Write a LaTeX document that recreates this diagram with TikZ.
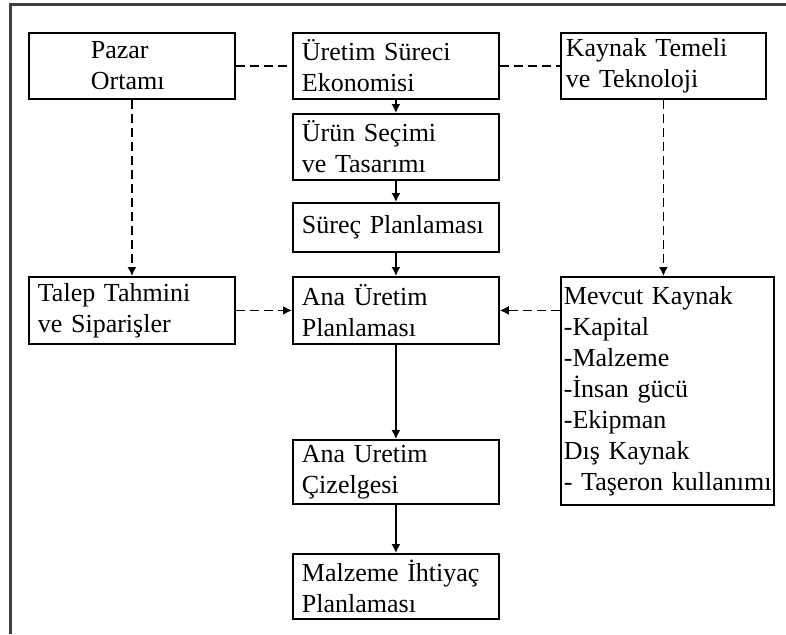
\documentclass[tikz,border=0pt]{standalone}
\usepackage{fontspec}
\setmainfont{Liberation Serif}
\usetikzlibrary{arrows.meta}
\begin{document}
\begin{tikzpicture}[x=1pt,y=-1pt,
  box/.style={draw, line width=1.8pt, rectangle, anchor=north west, inner sep=0pt,
    align=left, font=\fontsize{26}{31}\selectfont},
  tip/.style={-{Latex[length=9pt,width=9pt]}},
  flow/.style={line width=1.7pt, tip},
  link/.style={line width=1.6pt, dash pattern=on 9pt off 5pt},
  feed/.style={link, tip}]
\useasboundingbox (0,0) rectangle (786,634);
% outer frame (top and left edges)
\draw[line width=3pt, black!75] (786,5) -- (10,5) -- (10,634);

% top row
\node[box, minimum width=206pt, minimum height=66pt, text width=82pt] (pazar) at (28,32) {Pazar\\Ortamı};
\node[box, minimum width=206pt, minimum height=66pt, text width=188pt] (ekon) at (292,32) {Üretim Süreci\\Ekonomisi};
\node[box, minimum width=205pt, minimum height=66pt, text width=195pt] (kaynak) at (560,32) {Kaynak Temeli\\ve Teknoloji};

% central column
\node[box, minimum width=206pt, minimum height=66pt, text width=188pt] (urun) at (292,113) {Ürün Seçimi\\ve Tasarımı};
\node[box, minimum width=206pt, minimum height=49pt, text width=188pt] (surec) at (292,202) {Süreç Planlaması};
\node[box, minimum width=206pt, minimum height=67pt, text width=188pt] (ana) at (292,276) {Ana Üretim\\Planlaması};
\node[box, minimum width=206pt, minimum height=64pt, text width=188pt] (cizelge) at (292,439) {Ana Uretim\\Çizelgesi};
\node[box, minimum width=206pt, minimum height=65pt, text width=188pt] (mrp) at (292,553) {Malzeme İhtiyaç\\Planlaması};

% side inputs
\node[box, minimum width=206pt, minimum height=67pt, text width=188pt] (talep) at (28,276) {Talep Tahmini\\ve Siparişler};
\node[box, minimum width=213pt, minimum height=228pt, text width=207pt] (mevcut) at (560,276)
  {Mevcut Kaynak\\-Kapital\\-Malzeme\\-İnsan gücü\\-Ekipman\\Dış Kaynak\\\mbox{- Taşeron kullanımı}};

% dashed links along the top row
\draw[link] (pazar.east) -- (ekon.west);
\draw[link] (ekon.east) -- (kaynak.west);

% main flow
\draw[flow] (ekon.south) -- (urun.north);
\draw[flow] (urun.south) -- (surec.north);
\draw[flow] (surec.south) -- (ana.north);
\draw[flow] (ana.south) -- (cizelge.north);
\draw[flow] (cizelge.south) -- (mrp.north);

% dashed feeds
\draw[feed] (pazar.south) -- (talep.north);
\draw[feed] (kaynak.south) -- (kaynak.south |- mevcut.north);
\draw[feed] (talep.east) -- (ana.west);
\draw[feed] (mevcut.west |- ana.east) -- (ana.east);
\end{tikzpicture}
\end{document}
